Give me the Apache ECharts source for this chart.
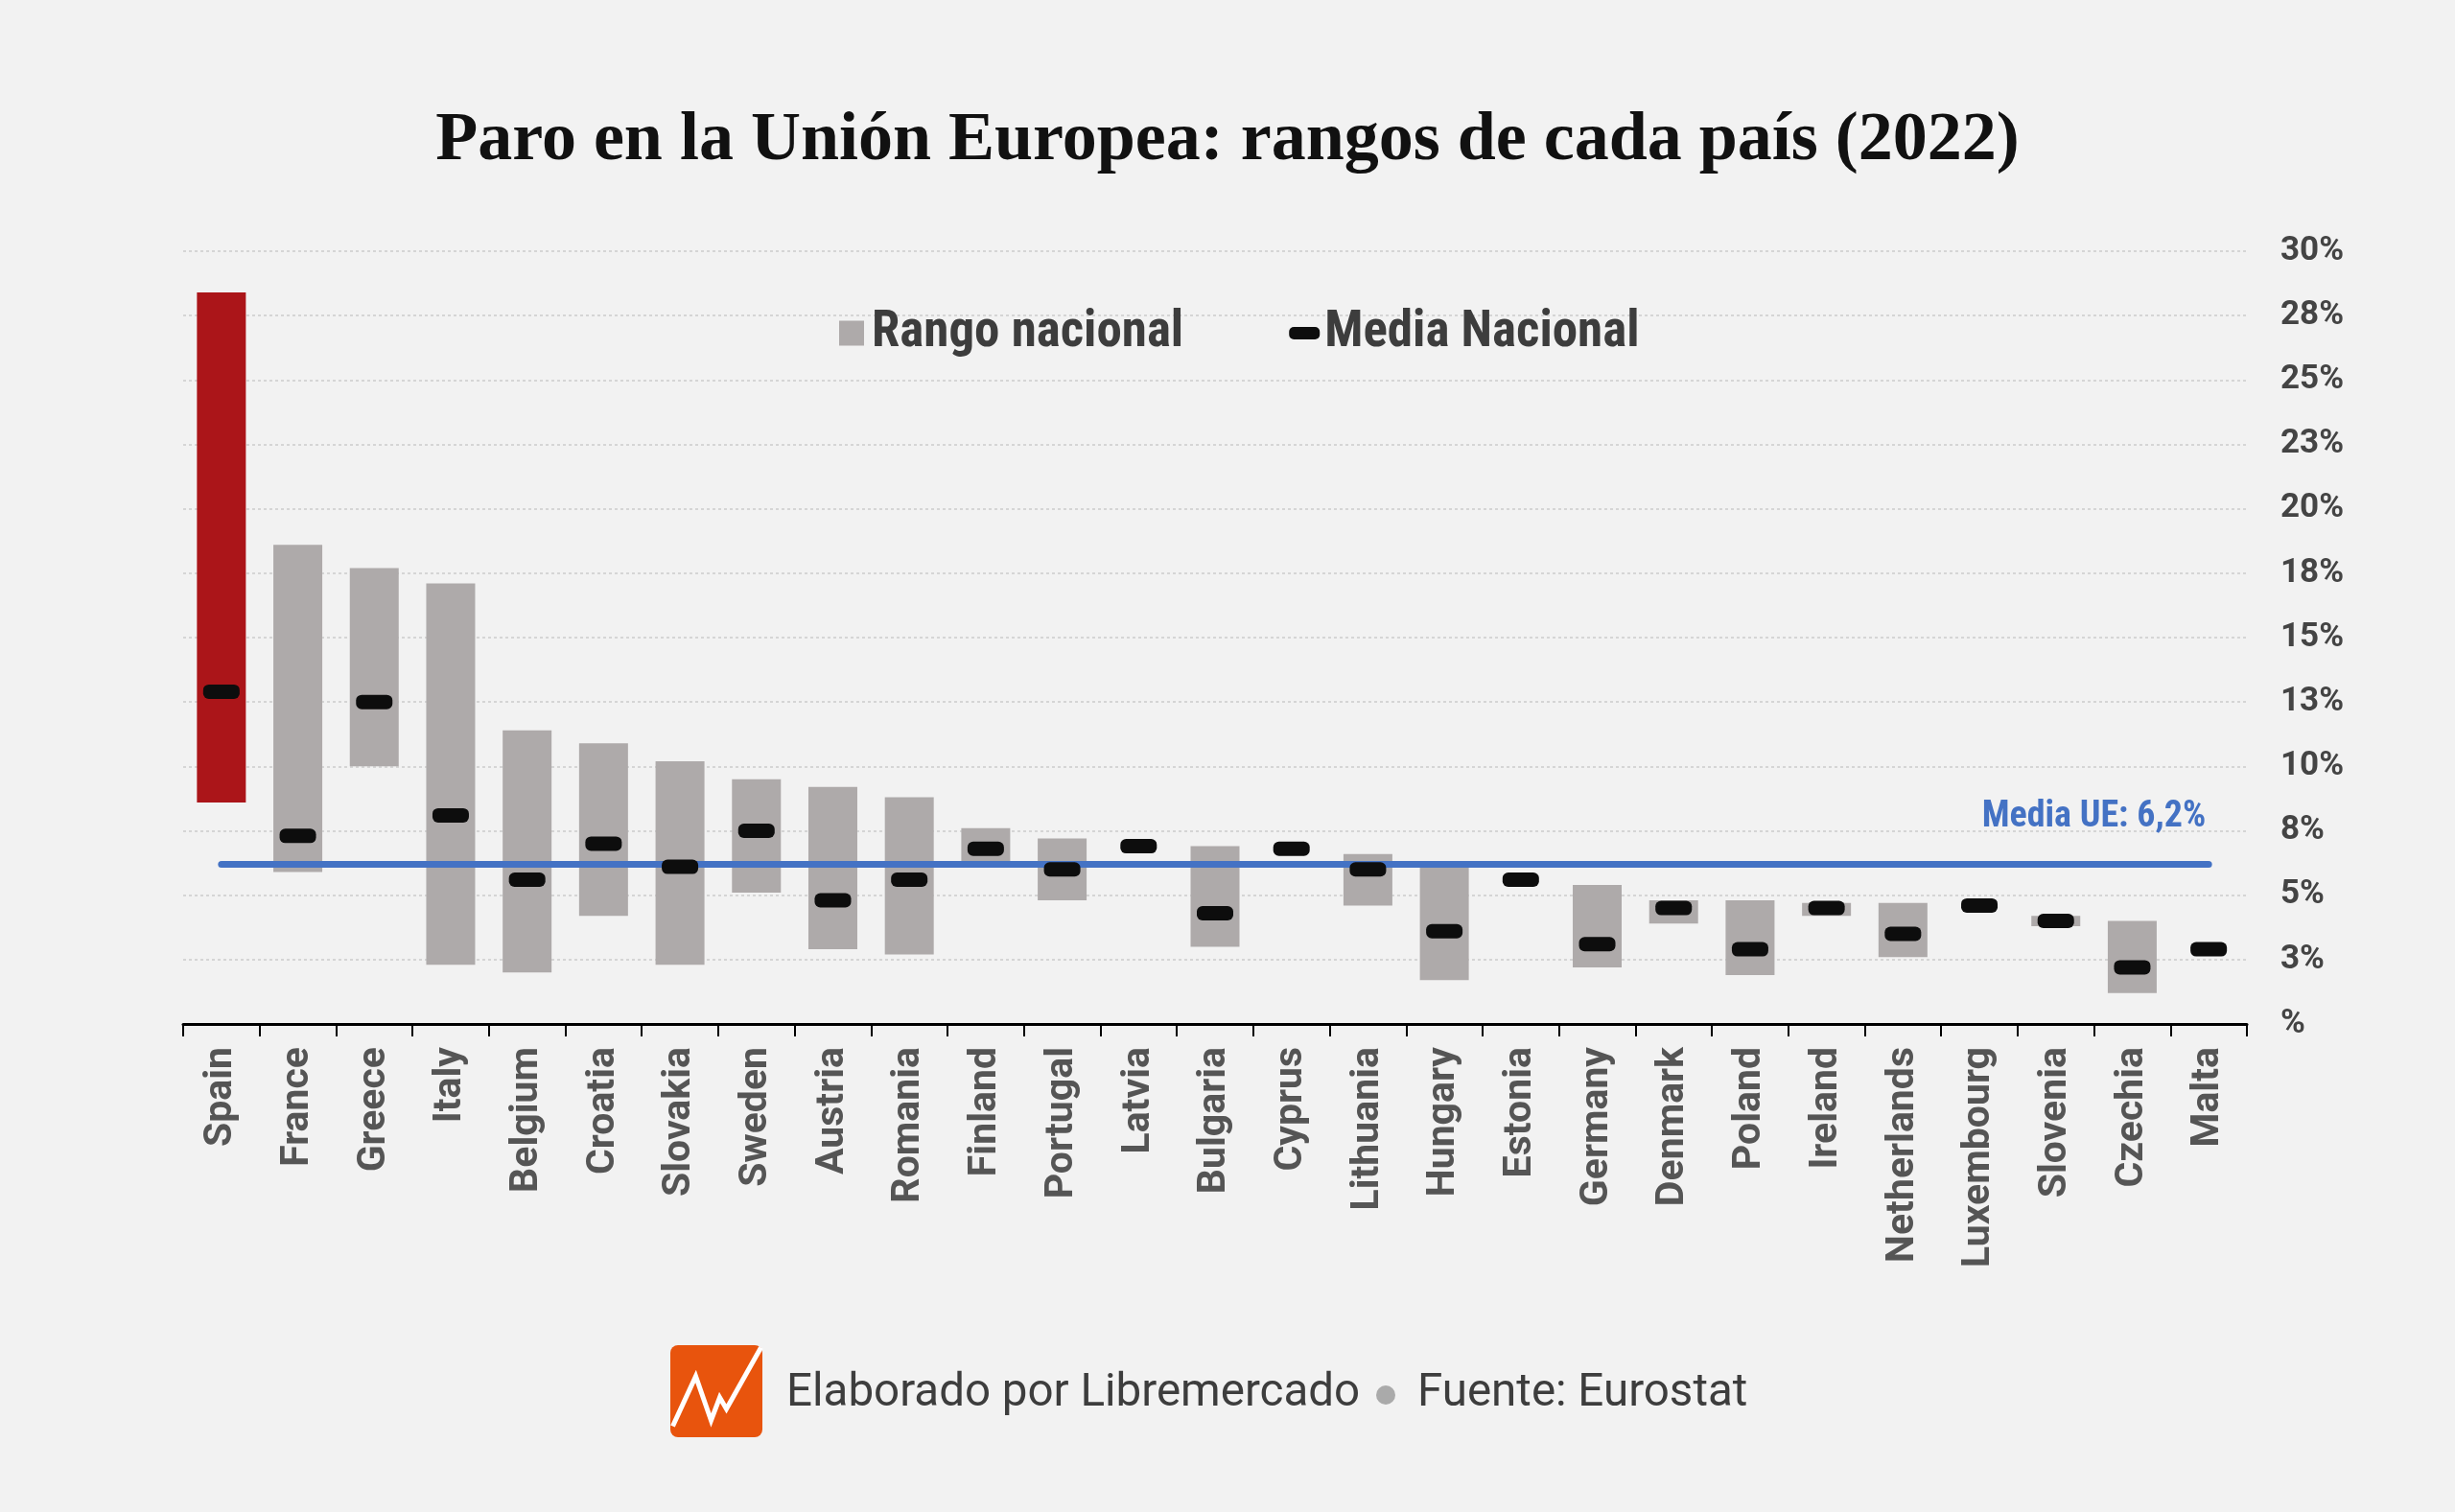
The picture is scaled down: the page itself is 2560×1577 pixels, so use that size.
<!DOCTYPE html>
<html>
<head>
<meta charset="utf-8">
<script src="https://cdn.jsdelivr.net/npm/echarts@6/dist/echarts.min.js"></script>
<style>
html,body{margin:0;padding:0;background:#f2f2f2;}
#chart{width:2560px;height:1577px;}
</style>
</head>
<body>
<div id="chart"></div>
<script>
const countries = ['Spain','France','Greece','Italy','Belgium','Croatia','Slovakia','Sweden','Austria','Romania','Finland','Portugal','Latvia','Bulgaria','Cyprus','Lithuania','Hungary','Estonia','Germany','Denmark','Poland','Ireland','Netherlands','Luxembourg','Slovenia','Czechia','Malta'];
const rangeMin = [8.6, 5.9, 10.0, 2.3, 2.0, 4.2, 2.3, 5.1, 2.9, 2.7, 6.3, 4.8, null, 3.0, null, 4.6, 1.7, null, 2.2, 3.9, 1.9, 4.2, 2.6, null, 3.8, 1.2, null];
const rangeMax = [28.4, 18.6, 17.7, 17.1, 11.4, 10.9, 10.2, 9.5, 9.2, 8.8, 7.6, 7.2, null, 6.9, null, 6.6, 6.1, null, 5.4, 4.8, 4.8, 4.7, 4.7, null, 4.2, 4.0, null];
const means = [12.9, 7.3, 12.5, 8.1, 5.6, 7.0, 6.1, 7.5, 4.8, 5.6, 6.8, 6.0, 6.9, 4.3, 6.8, 6.0, 3.6, 5.6, 3.1, 4.5, 2.9, 4.5, 3.5, 4.6, 4.0, 2.2, 2.9];
const euAvg = 6.2;
const highlight = 'Spain';

const chart = echarts.init(document.getElementById('chart'));
const sans = "Roboto, 'Noto Sans', sans-serif";
const condensed = "'Roboto Condensed', 'Liberation Sans Narrow', Roboto, sans-serif";
const meanIcon = 'path://M5,0H27A5,5 0 0 1 32,5V8A5,5 0 0 1 27,13H5A5,5 0 0 1 0,8V5A5,5 0 0 1 5,0Z';

const spanData = rangeMax.map((mx, i) => {
  if (mx == null || rangeMin[i] == null) return null;
  const v = +(mx - rangeMin[i]).toFixed(2);
  return countries[i] === highlight ? {value: v, itemStyle: {color: '#ab1519'}} : v;
});

const option = {
  backgroundColor: '#f2f2f2',
  animation: false,
  title: {
    text: 'Paro en la Unión Europea: rangos de cada país (2022)',
    left: 'center',
    top: 106,
    textStyle: {fontFamily: "'Liberation Serif', serif", fontWeight: 'bold', fontSize: 72, color: '#111'}
  },
  legend: {
    top: 316,
    left: 870,
    itemWidth: 32,
    itemHeight: 26,
    itemGap: 110,
    selectedMode: false,
    textStyle: {fontFamily: condensed, fontWeight: 'bold', fontSize: 53, color: '#3d3d3d'},
    data: [
      {name: 'Rango nacional', icon: 'path://M0,0H10V10H0Z', itemStyle: {color: '#aeaaaa'}},
      {name: 'Media Nacional', icon: meanIcon, itemStyle: {color: '#0d0d0d'}}
    ]
  },
  grid: {left: 191, right: 217, top: 262, bottom: 509},
  xAxis: {
    type: 'category',
    data: countries,
    axisLine: {lineStyle: {color: '#000', width: 3}},
    axisTick: {show: true, length: 13, interval: 0, lineStyle: {color: '#000', width: 2}},
    axisLabel: {rotate: 90, interval: 0, margin: 24, fontFamily: sans, fontWeight: 'bold', fontSize: 41, color: '#555'}
  },
  yAxis: {
    type: 'value',
    position: 'right',
    min: 0,
    max: 30,
    interval: 2.5,
    axisLine: {show: false},
    axisTick: {show: false},
    axisLabel: {
      margin: 35,
      fontFamily: sans, fontWeight: 'bold', fontSize: 35, color: '#444',
      formatter: v => v === 0 ? '%' : Math.round(v) + '%'
    },
    splitLine: {lineStyle: {color: '#cccccc', width: 1.5, type: [3, 3]}}
  },
  series: [
    {
      name: 'base',
      type: 'bar',
      stack: 'range',
      silent: true,
      barWidth: 51,
      itemStyle: {color: 'rgba(0,0,0,0)'},
      data: rangeMin
    },
    {
      name: 'Rango nacional',
      type: 'bar',
      stack: 'range',
      barWidth: 51,
      itemStyle: {color: '#aeaaaa'},
      data: spanData,
      z: 2
    },
    {
      name: 'EU',
      type: 'line',
      data: [],
      z: 3,
      markLine: {
        silent: true,
        symbol: ['none', 'none'],
        lineStyle: {color: '#4472c4', width: 7, type: 'solid', cap: 'round', opacity: 1},
        label: {
          show: true,
          position: 'insideEndTop',
          distance: [3, 30],
          formatter: 'Media UE: ' + String(euAvg).replace('.', ',') + '%',
          color: '#4472c4',
          fontFamily: condensed,
          fontWeight: 'bold',
          fontSize: 38
        },
        data: [[{coord: [countries[0], euAvg]}, {coord: [countries[countries.length - 1], euAvg]}]]
      }
    },
    {
      name: 'Media Nacional',
      type: 'scatter',
      symbol: meanIcon,
      symbolSize: [38, 15],
      itemStyle: {color: '#0d0d0d', opacity: 1},
      data: means,
      z: 5
    }
  ],
  graphic: [
    {type: 'rect', left: 699, top: 1403, shape: {width: 96, height: 96, r: 8}, style: {fill: '#e8540d'}},
    {type: 'polyline', left: 699, top: 1403, shape: {points: [[2, 86], [26, 34], [42, 80], [51, 56], [58, 68], [94, 4]]}, style: {stroke: '#fff', lineWidth: 5, fill: null, lineJoin: 'miter'}},
    {type: 'text', left: 820, top: 1430, style: {text: 'Elaborado por Libremercado', fontFamily: sans, fontSize: 47.5, fill: '#3d3d3d'}},
    {type: 'circle', shape: {cx: 1445, cy: 1455, r: 10}, style: {fill: '#aaaaaa'}},
    {type: 'text', left: 1478, top: 1430, style: {text: 'Fuente: Eurostat', fontFamily: sans, fontSize: 47.5, fill: '#3d3d3d'}}
  ]
};
chart.setOption(option);
</script>
</body>
</html>
